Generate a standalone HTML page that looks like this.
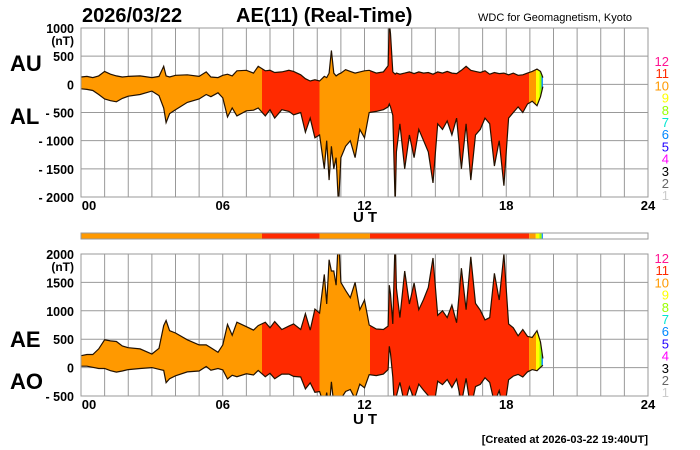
<!DOCTYPE html>
<html><head><meta charset="utf-8"><style>
body{margin:0;background:#fff;}
svg{display:block;font-family:"Liberation Sans",sans-serif;}
.b{font-weight:bold;}
</style></head><body>
<svg id="chart" width="700" height="450" viewBox="0 0 700 450">
<text class="b" x="82" y="22" font-size="20">2026/03/22</text>
<text class="b" x="236" y="22" font-size="20">AE(11) (Real-Time)</text>
<text x="478" y="21" font-size="11">WDC for Geomagnetism, Kyoto</text>
<text class="b" x="10" y="71" font-size="22">AU</text>
<text class="b" x="10" y="124" font-size="22">AL</text>
<text class="b" x="10" y="347" font-size="22">AE</text>
<text class="b" x="10" y="389" font-size="22">AO</text>
<text class="b" x="648" y="443" font-size="11" text-anchor="end">[Created at 2026-03-22 19:40UT]</text>
<g id="g"></g>
</svg>
<script>
const times=[0,0.25,0.5,0.75,1,1.25,1.5,1.75,2,2.5,3,3.3,3.5,3.6,3.75,4,4.5,5,5.3,5.5,5.8,6,6.2,6.4,6.6,7,7.3,7.5,7.8,8,8.2,8.5,8.8,9,9.3,9.5,9.7,9.9,10.1,10.3,10.4,10.5,10.6,10.7,10.8,10.9,11,11.2,11.4,11.6,11.8,12,12.2,12.5,12.8,13,13.05,13.1,13.2,13.3,13.35,13.5,13.7,13.9,14.1,14.3,14.5,14.7,14.9,15.1,15.3,15.5,15.7,15.9,16.1,16.3,16.5,16.7,16.9,17.1,17.3,17.5,17.7,17.9,18.1,18.3,18.5,18.7,18.9,19.1,19.3,19.45,19.55];
const au=[130,140,120,150,230,180,150,130,140,150,120,140,320,150,130,160,170,140,220,130,120,160,180,150,240,250,200,320,240,250,210,220,250,230,170,100,60,80,60,140,120,200,600,200,150,180,200,260,230,200,220,240,250,200,220,330,1100,900,220,180,200,180,200,220,190,220,200,210,180,220,200,230,200,190,250,320,250,230,210,240,180,210,190,200,170,200,160,170,200,230,270,230,120];
const al=[-80,-90,-110,-180,-260,-290,-310,-250,-210,-180,-120,-200,-420,-680,-520,-450,-320,-260,-180,-220,-150,-240,-580,-420,-560,-470,-460,-420,-560,-450,-600,-450,-480,-540,-500,-850,-600,-950,-900,-1500,-1000,-1700,-1100,-1500,-1300,-2150,-1300,-1100,-1000,-1300,-800,-950,-500,-480,-450,-400,-350,-400,-550,-2150,-1200,-700,-1500,-900,-1300,-800,-1000,-1200,-1750,-700,-800,-650,-900,-600,-1500,-700,-1700,-900,-800,-600,-700,-1450,-1000,-1800,-600,-500,-400,-500,-350,-300,-380,-220,-40];
const segStarts=[0,7.66,10.1,12.23,18.97,19.25,19.4,19.5];
const segLevels=[10,11,10,11,10,9,8,6];
const topTicks=[1000,500,0,-500,-1000,-1500,-2000];
const botTicks=[2000,1500,1000,500,0,-500];
const xTicks=["00","06","12","18","24"];
const legendLevels=[12,11,10,9,8,7,6,5,4,3,2,1];
const levelColors={12:"#ff1493",11:"#ff2a00",10:"#ff9900",9:"#ffff00",8:"#99ff00",7:"#00e5d0",6:"#0088ff",5:"#2200ff",4:"#ff00ff",3:"#000",2:"#666",1:"#ccc"};
const NS="http://www.w3.org/2000/svg",g=document.getElementById('g');
const X0=81,X1=648,x=t=>X0+t*(X1-X0)/24;
function el(tag,at,parent){const e=document.createElementNS(NS,tag);for(const k in at)e.setAttribute(k,at[k]);(parent||g).appendChild(e);return e;}
const defs=el('defs',{});
const grad=el('linearGradient',{id:'act',gradientUnits:'userSpaceOnUse',x1:X0,y1:0,x2:X1,y2:0},defs);
segStarts.forEach((s,i)=>{const e=i<segStarts.length-1?segStarts[i+1]:24;const c=levelColors[segLevels[i]];
 el('stop',{offset:s/24,'stop-color':c},grad);el('stop',{offset:e/24,'stop-color':c},grad);});
function panel(name,top,bot,vmax,vmin,ticks,upper,lower,legTop,uty){
 const y=v=>top+(vmax-v)*(bot-top)/(vmax-vmin);
 const cp=el('clipPath',{id:'cp'+name},defs);el('rect',{x:X0,y:top,width:X1-X0,height:bot-top},cp);
 for(let h=1;h<24;h++){const l=el('line',{x1:x(h),x2:x(h),y1:top,y2:bot,stroke:'#999','stroke-width':1});
  }
 ticks.forEach((v,i)=>{if(i>0&&i<ticks.length-1){const l=el('line',{x1:X0,x2:X1,y1:y(v),y2:y(v),stroke:'#999','stroke-width':1});
  }
  const t=el('text',{x:74,y:y(v)+5,'font-size':12.5,'font-weight':'bold','text-anchor':'end'});
  t.textContent=(v<0?'- '+(-v):String(v));
  });
 const nt=el('text',{x:74,y:y(ticks[0])+17,'font-size':12,'font-weight':'bold','text-anchor':'end'});nt.textContent='(nT)';
 
 const up=times.map((t,i)=>x(t).toFixed(1)+','+y(upper[i]).toFixed(1));
 const lo=times.map((t,i)=>x(t).toFixed(1)+','+y(lower[i]).toFixed(1));
 const gg=el('g',{'clip-path':'url(#cp'+name+')'});
 const area=el('polygon',{points:up.concat(lo.slice().reverse()).join(' '),fill:'url(#act)'},gg);
 
 const l1=el('polyline',{points:up.join(' '),fill:'none',stroke:'#221100','stroke-width':1.2},gg);
 
 const l2=el('polyline',{points:lo.join(' '),fill:'none',stroke:'#221100','stroke-width':1.2},gg);
 
 const fr=el('rect',{x:X0,y:top,width:X1-X0,height:bot-top,fill:'none',stroke:'#999','stroke-width':1});
 
 xTicks.forEach((s,i)=>{const t=el('text',{x:x(i*6)+(i==0?8:0),y:bot+13,'font-size':13,'font-weight':'bold','text-anchor':'middle'});t.textContent=s;
  });
 const ut=el('text',{x:367,y:uty,'font-size':15,'font-weight':'bold','text-anchor':'middle','letter-spacing':'4'});ut.textContent='UT';
 
 legendLevels.forEach((lv,i)=>{const t=el('text',{x:669,y:legTop+i*12.2,'font-size':13,'text-anchor':'end',fill:levelColors[lv]});t.textContent=lv;
  });
}
panel('top',28,197,1000,-2000,topTicks,au,al,66,222);
const ae=au.map((v,i)=>v-al[i]);
const ao=au.map((v,i)=>(v+al[i])/2);
panel('bottom',254,396,2000,-500,botTicks,ae,ao,263,424);
segStarts.forEach((s,i)=>{const e=i<segStarts.length-1?segStarts[i+1]:times[times.length-1];
 const r=el('rect',{x:x(s),y:233,width:x(e)-x(s),height:6,fill:levelColors[segLevels[i]]});
 });
const cb=el('rect',{x:X0,y:233,width:X1-X0,height:6,fill:'none',stroke:'#999','stroke-width':1});

</script>
</body></html>
